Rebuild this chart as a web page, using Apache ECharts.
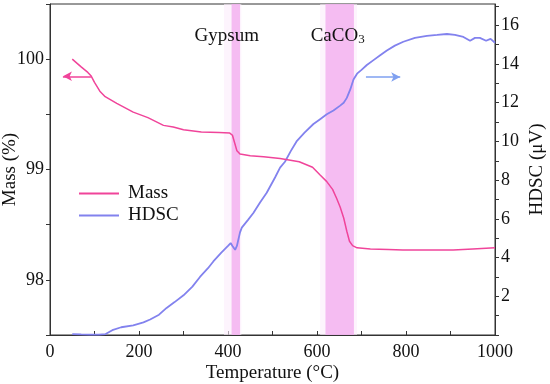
<!DOCTYPE html>
<html>
<head>
<meta charset="utf-8">
<script src="https://cdn.jsdelivr.net/npm/echarts@6/dist/echarts.min.js"></script>
<style>html,body{margin:0;padding:0;background:#fff}#c{width:550px;height:384px}</style>
</head>
<body>
<div id="c"></div>
<script>
// Temperature (°C) vs Mass (%)
const massData = [
  [50,100.0],[70,99.93],[85,99.88],[92,99.85],[100,99.79],[112,99.71],[124,99.66],[150,99.60],[187,99.52],
  [220,99.47],[255,99.40],[277,99.385],[300,99.36],[340,99.34],[380,99.335],[404,99.33],[410,99.31],
  [415,99.24],[420,99.17],[427,99.14],[450,99.125],[480,99.115],[517,99.10],[560,99.07],[590,99.02],
  [607,98.95],[622,98.89],[635,98.82],[644,98.74],[652,98.66],[660,98.56],[667,98.44],[673,98.35],
  [680,98.31],[690,98.29],[720,98.28],[760,98.275],[793,98.27],[850,98.27],[906,98.27],[950,98.28],[1000,98.29]
];
// Temperature (°C) vs HDSC (µV)
const hdscData = [
  [50,0.05],[70,0.03],[90,0.02],[110,0.02],[125,0.05],[140,0.25],[160,0.4],[187,0.5],[210,0.65],[225,0.8],
  [245,1.05],[262,1.4],[280,1.7],[300,2.05],[320,2.5],[337,3.0],[355,3.45],[367,3.8],[385,4.25],[400,4.6],
  [406,4.75],[410,4.6],[416,4.4],[420,4.6],[427,5.3],[431,5.55],[445,5.95],[457,6.3],[472,6.85],[487,7.35],
  [506,8.15],[517,8.65],[528,8.95],[541,9.5],[554,10.0],[572,10.45],[592,10.9],[607,11.15],[622,11.4],
  [637,11.6],[652,11.85],[660,12.0],[667,12.25],[675,12.7],[682,13.2],[690,13.5],[700,13.7],[712,13.95],
  [727,14.2],[742,14.45],[757,14.7],[775,14.95],[794,15.15],[820,15.35],[847,15.45],[870,15.5],[892,15.55],
  [910,15.5],[929,15.4],[944,15.2],[955,15.35],[966,15.35],[980,15.2],[990,15.3],[1000,15.1]
];
// Highlighted temperature ranges
const bandNames = ['Gypsum', 'CaCO{s|3}'];
const bandRanges = [[408, 427], [619, 683]];
const bandHalo = [[391, 430], [607, 690]];
// arrow annotations [xStart, xEnd, y]
const massArrow = [92, 29, 99.845];
const hdscArrow = [710, 787, 13.33];

const FONT = "'Liberation Serif', 'Times New Roman', serif";
const chart = echarts.init(document.getElementById('c'), null, {renderer: 'canvas'});
chart.setOption({
  animation: false,
  grid: {left: 50, right: 55, top: 4, bottom: 49, show: true, borderColor: '#333', borderWidth: 1,
    containLabel: false, outerBoundsMode: 'none'},
  legend: {
    left: 79, top: 184, orient: 'vertical', padding: 0, itemGap: 3, itemWidth: 40, itemHeight: 2,
    icon: 'rect',
    textStyle: {fontFamily: FONT, fontSize: 19, color: '#111', lineHeight: 14, padding: [0, 0, 0, 4]},
    data: ['Mass', 'HDSC']
  },
  xAxis: {
    type: 'value', min: 0, max: 1000, interval: 100,
    name: 'Temperature (°C)', nameLocation: 'middle', nameGap: 29, nameMoveOverlap: false,
    nameTextStyle: {fontFamily: FONT, fontSize: 19, color: '#111'},
    axisLine: {lineStyle: {color: '#333'}},
    axisTick: {inside: true, length: 4, lineStyle: {color: '#333'}},
    axisLabel: {fontFamily: FONT, fontSize: 18, color: '#111', margin: 8,
      formatter: v => (v % 200 === 0 ? String(v) : '')},
    splitLine: {show: false}
  },
  yAxis: [{
    type: 'value', min: 97.5, max: 100.5, interval: 0.5,
    name: 'Mass (%)', nameLocation: 'middle', nameGap: 30, nameRotate: 90, nameMoveOverlap: false,
    nameTextStyle: {fontFamily: FONT, fontSize: 19, color: '#111'},
    axisLine: {show: true, lineStyle: {color: '#333'}},
    axisTick: {show: true, length: 4, lineStyle: {color: '#333'}},
    axisLabel: {fontFamily: FONT, fontSize: 18, color: '#111', margin: 6,
      formatter: v => (Math.abs(v - Math.round(v)) < 1e-6 ? String(Math.round(v)) : '')},
    splitLine: {show: false}
  }, {
    type: 'value', min: 0, max: 17.1, interval: 1, position: 'right',
    name: 'HDSC (μV)', nameLocation: 'middle', nameGap: 33, nameRotate: 90, nameMoveOverlap: false,
    nameTextStyle: {fontFamily: FONT, fontSize: 19, color: '#111'},
    axisLine: {show: true, lineStyle: {color: '#333'}},
    axisTick: {show: true, length: 4, lineStyle: {color: '#333'}},
    axisLabel: {fontFamily: FONT, fontSize: 18, color: '#111', margin: 6, showMaxLabel: false,
      formatter: v => (v > 0 && v % 2 === 0 ? String(v) : '')},
    splitLine: {show: false}
  }],
  series: [{
    name: 'bands', type: 'line', data: [], yAxisIndex: 0, z: 1, silent: true,
    markArea: {
      silent: true,
      data: bandHalo.map(r => [{xAxis: r[0], itemStyle: {color: 'rgba(252,236,251,0.6)'}}, {xAxis: r[1]}])
        .concat(bandRanges.map((r, i) => [{
          xAxis: r[0],
          itemStyle: {color: 'rgba(244,175,240,0.8)'},
          label: {
            show: true, position: 'insideTop', distance: 23, offset: [i === 0 ? -9 : -2, 0],
            formatter: bandNames[i], fontFamily: FONT, fontSize: 19, color: '#111',
            rich: {s: {fontFamily: FONT, fontSize: 13, color: '#111', verticalAlign: 'bottom', lineHeight: 14, padding: [10, 0, 0, 0]}}
          }
        }, {xAxis: r[1]}]))
    }
  }, {
    name: 'HDSC', type: 'line', yAxisIndex: 1, data: hdscData, symbol: 'none', z: 3,
    lineStyle: {color: '#8282ee', width: 1.8}, itemStyle: {color: '#8282ee'},
    markLine: {
      silent: true, symbol: ['none', 'arrow'], symbolSize: [7, 9],
      lineStyle: {color: '#7fa0f0', width: 1.5, type: 'solid'}, label: {show: false},
      data: [[{coord: [hdscArrow[0], hdscArrow[2]]}, {coord: [hdscArrow[1], hdscArrow[2]]}]]
    }
  }, {
    name: 'Mass', type: 'line', yAxisIndex: 0, data: massData, symbol: 'none', z: 4,
    lineStyle: {color: '#f0449a', width: 1.5}, itemStyle: {color: '#f0449a'},
    markLine: {
      silent: true, symbol: ['none', 'arrow'], symbolSize: [7, 9],
      lineStyle: {color: '#f0449a', width: 1.5, type: 'solid'}, label: {show: false},
      data: [[{coord: [massArrow[0], massArrow[2]]}, {coord: [massArrow[1], massArrow[2]]}]]
    }
  }]
});
</script>
</body>
</html>
